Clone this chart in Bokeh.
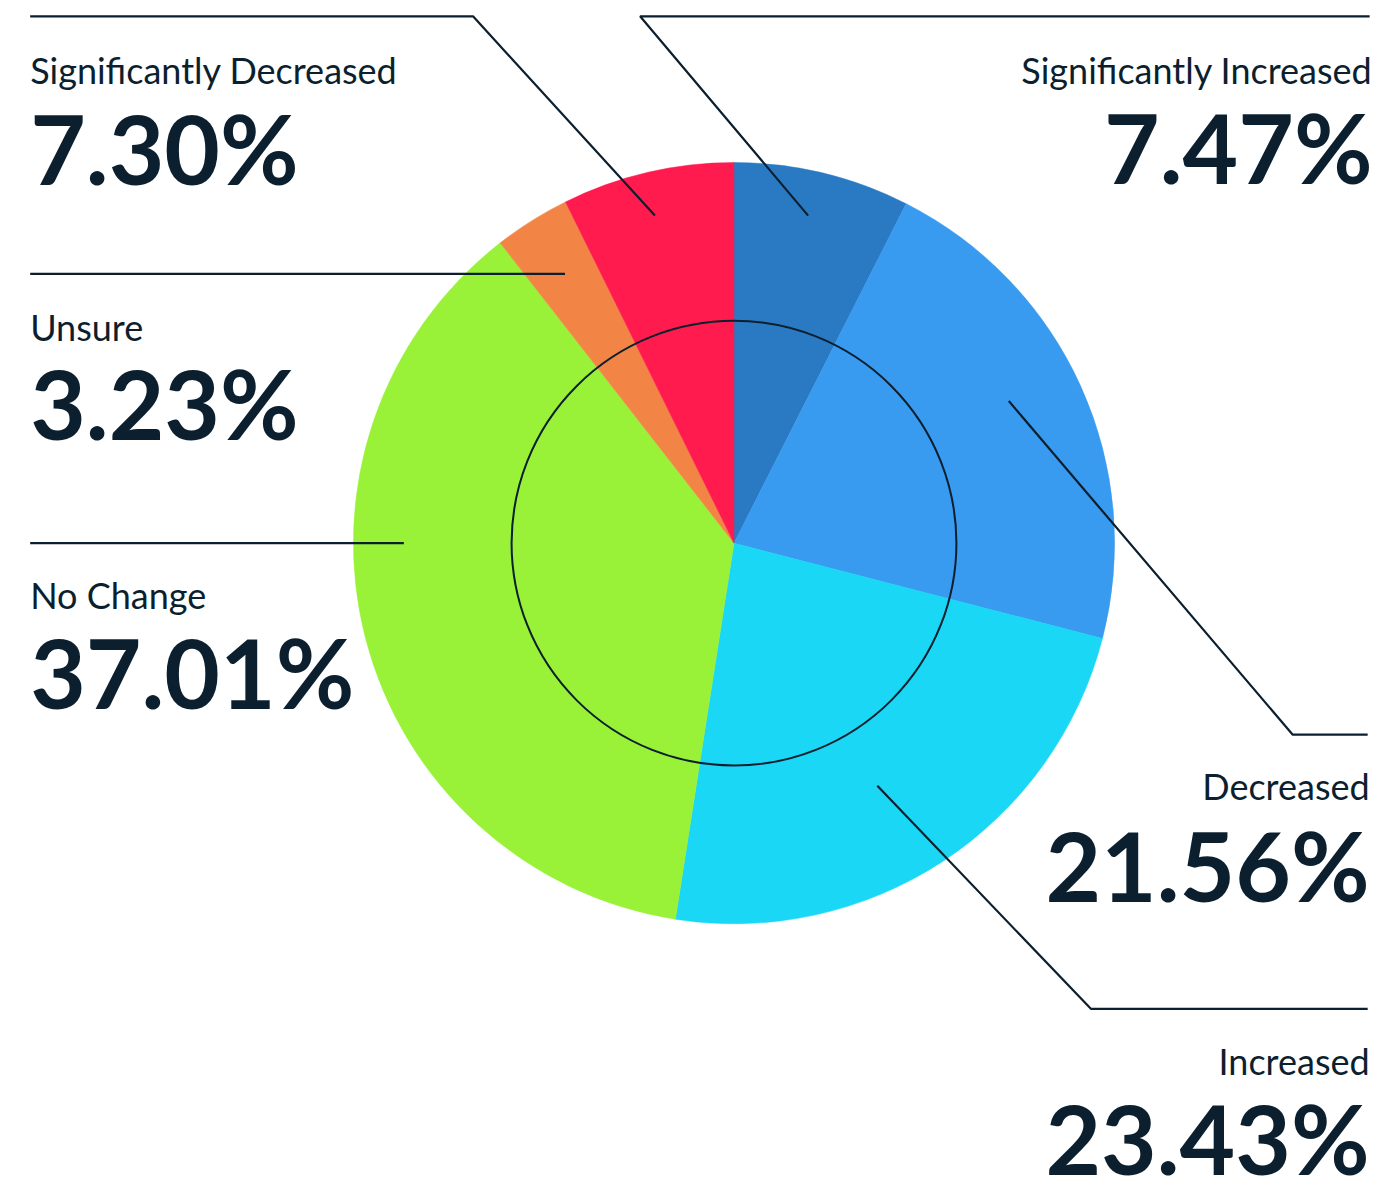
import math
from bokeh.plotting import figure
from bokeh.models import Range1d, ColumnDataSource
from bokeh.core.properties import value
from bokeh.embed import file_html
from bokeh.resources import INLINE

# ---- data (clockwise from 12 o'clock) ----
categories = ["Significantly Increased", "Decreased", "Increased", "No Change", "Unsure", "Significantly Decreased"]
percents = [7.47, 21.56, 23.43, 37.01, 3.23, 7.30]
colors = ["#2a7ac3", "#389bf0", "#19d7f5", "#99f238", "#f28545", "#ff1b4e"]
value_labels = ["7.47%", "21.56%", "23.43%", "37.01%", "3.23%", "7.30%"]

# ---- layout (positions in a 1397 x 1197 design frame) ----
W, H = 1381, 1181
FW, FH = 1397, 1197
CX, CY = 742, 550          # pie centre in the design frame
R_OUTER, R_INNER = 385, 225
INK = "#0c1f2e"
NAME_SIZE, VALUE_SIZE = 36, 96
BASELINE_FIX = 0.38        # compensation for the renderer's alphabetic baseline

def P(sx, sy):
    return sx - CX, CY - sy

# label blocks: (name_x, name_baseline, value_baseline, align, leader polyline)
layout = {
    "Significantly Decreased": (30, 84, 185, "left", [(662, 218), (478, 16), (30, 16)]),
    "Significantly Increased": (1388, 84, 184, "right", [(817, 218), (647, 16), (1385, 16)]),
    "Unsure": (30, 345, 444, "left", [(571, 277), (30, 277)]),
    "No Change": (30, 616, 717, "left", [(408, 550), (30, 550)]),
    "Decreased": (1385, 810, 912, "right", [(1020, 406), (1307, 744), (1383, 744)]),
    "Increased": (1385, 1089, 1189, "right", [(887, 796), (1103, 1022), (1383, 1022)]),
}

p = figure(width=W, height=H, output_backend="svg", toolbar_location=None,
           x_range=Range1d(-CX, FW - CX), y_range=Range1d(CY - FH, CY),
           min_border=0)
p.axis.visible = False
p.grid.visible = False
p.outline_line_color = None
p.background_fill_color = "white"
p.border_fill_color = "white"

# wedges
total = sum(percents)
starts, ends = [], []
cum = 0.0
for v in percents:
    starts.append(math.pi / 2 - 2 * math.pi * cum / total)
    cum += v
    ends.append(math.pi / 2 - 2 * math.pi * cum / total)
src = ColumnDataSource(dict(cat=categories, start=starts, end=ends, color=colors))
p.wedge(x=0, y=0, radius=R_OUTER, start_angle="start", end_angle="end", direction="clock",
        fill_color="color", line_color="color", line_width=0.5, source=src)

# inner ring
p.circle(x=0, y=0, radius=R_INNER, fill_color=None, line_color=INK, line_width=2)

# leader lines and labels
for cat, val in zip(categories, value_labels):
    nx, nb, vb, align, pts = layout[cat]
    xs = [P(*q)[0] for q in pts]
    ys = [P(*q)[1] for q in pts]
    p.line(xs, ys, line_color=INK, line_width=2.2)
    x0, y0 = P(nx, nb - BASELINE_FIX * NAME_SIZE)
    p.text(x=[x0], y=[y0], text=[cat], text_align=align, text_baseline="alphabetic",
           text_font=value("Lato"), text_font_size=f"{NAME_SIZE}px", text_color=INK)
    x1, y1 = P(nx, vb - BASELINE_FIX * VALUE_SIZE)
    p.text(x=[x1], y=[y1], text=[val], text_align=align, text_baseline="alphabetic",
           text_font=value("Lato"), text_font_style="bold", text_font_size=f"{VALUE_SIZE}px",
           text_color=INK)

open("out.html", "w").write(file_html(p, INLINE))
